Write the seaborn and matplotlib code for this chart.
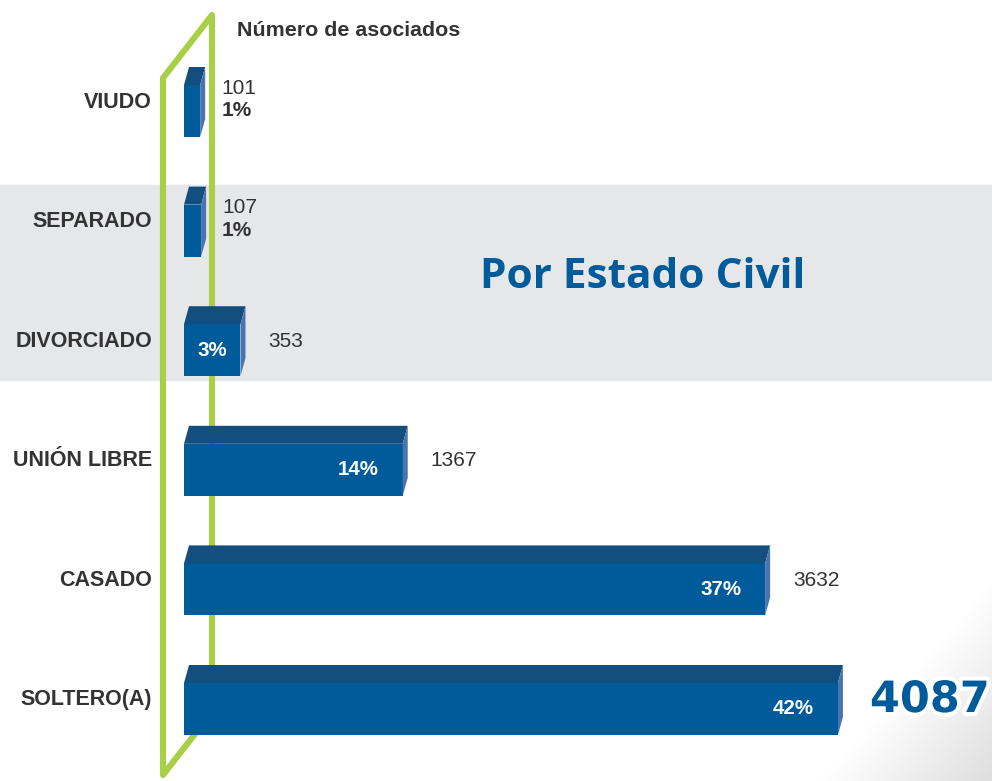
import numpy as np
import matplotlib
matplotlib.use('Agg')
import matplotlib.pyplot as plt
import matplotlib.patheffects as pe
from matplotlib.patches import Polygon
import seaborn as sns

categories = ["VIUDO", "SEPARADO", "DIVORCIADO", "UNIÓN LIBRE", "CASADO", "SOLTERO(A)"]
counts = [101, 107, 353, 1367, 3632, 4087]
pcts = ["1%", "1%", "3%", "14%", "37%", "42%"]
title = "Por Estado Civil"
subtitle = "Número de asociados"

front = "#005b9a"
top_c = "#124e7e"
side_c = "#4a74ae"
green = "#a8cf45"
grey_band = "#e6e7e9"
dark = "#333333"

sns.set_style("white")
plt.rcParams['font.family'] = ['Liberation Sans', 'DejaVu Sans']

# pixel layout helpers (figure is 992x781 px, axes fill it)
X0, XS = 184, 0.16      # x pixel of value 0, pixels per unit
Y0, YS = 111, 119.6     # y pixel of first row centre, pixels per row


def px(x, y):
    return (x - X0) / XS, (y - Y0) / YS


fig = plt.figure(figsize=(9.92, 7.81), dpi=100)
ax = fig.add_axes([0, 0, 1, 1])

sns.barplot(x=counts, y=categories, orient='h', color=front, saturation=1,
            width=52 / YS, linewidth=0, ax=ax, zorder=3)

ax.set_xlim(px(0, 0)[0], px(992, 0)[0])
ax.set_ylim(px(0, 781)[1], px(0, 0)[1])
ax.axis('off')

# grey band behind SEPARADO / DIVORCIADO
ax.axhspan(px(0, 185)[1], px(0, 380)[1], color=grey_band, zorder=0)

# soft shading in the bottom-right corner
gx, gy = np.meshgrid(np.linspace(0, 1, 200), np.linspace(0, 1, 200))
shade = np.clip((gx + gy - 1.0) / 1.0, 0, 1)
cmap = matplotlib.colors.LinearSegmentedColormap.from_list('sh', ['#ffffff', '#dedede'])
ex0, ey0 = px(820, 580)
ex1, ey1 = px(992, 781)
ax.imshow(shade, extent=(ex0, ex1, ey1, ey0), cmap=cmap, aspect='auto',
          zorder=0.5, interpolation='bilinear')

# green frame
frame = [px(163, 775), px(163, 78), px(212, 15), px(212, 712)]
ax.add_patch(Polygon(frame, closed=True, fill=False, edgecolor=green,
                     linewidth=4.4, joinstyle='round', zorder=1))

# 3d faces from the seaborn bars
dx = 5 / XS
dy = 18 / YS
for i, bar in enumerate(ax.patches[:len(counts)]):
    x0 = bar.get_x()
    x1 = x0 + bar.get_width()
    yt = bar.get_y()
    yb = yt + bar.get_height()
    ax.add_patch(Polygon([(x0, yt), (x0 + dx, yt - dy), (x1 + dx, yt - dy), (x1, yt)],
                         closed=True, facecolor=top_c, edgecolor='none', zorder=3))
    ax.add_patch(Polygon([(x1, yt), (x1 + dx, yt - dy), (x1 + dx, yb - dy), (x1, yb)],
                         closed=True, facecolor=side_c, edgecolor='none', zorder=3))

    yc = (yt + yb) / 2
    ymid = yc - dy / 2
    wpx = bar.get_width() * XS
    ax.text(px(152, 0)[0], ymid, categories[i], ha='right', va='center',
            fontsize=15.5, fontweight='bold', color=dark)

    if wpx < 30:
        ax.text(x1 + 21 / XS, yc - 23 / YS, f"{counts[i]}", ha='left', va='center',
                fontsize=15, color=dark)
        ax.text(x1 + 21 / XS, yc, pcts[i], ha='left', va='center',
                fontsize=15, fontweight='bold', color=dark)
        continue
    if wpx < 80:
        ax.text((x0 + x1) / 2, yc, pcts[i], ha='center', va='center',
                fontsize=14.8, fontweight='bold', color='white', zorder=4)
    else:
        ax.text(x1 - 24 / XS, yc, pcts[i], ha='right', va='center',
                fontsize=14.8, fontweight='bold', color='white', zorder=4)
    if counts[i] == max(counts):
        t = ax.text(x1 + 32 / XS, ymid, f"{counts[i]}", ha='left', va='center',
                    fontsize=31, fontweight='bold', color=front,
                    family=['DejaVu Sans'], zorder=4)
        t.set_path_effects([pe.Stroke(linewidth=6, foreground='white'), pe.Normal()])
    else:
        ax.text(x1 + 28 / XS, ymid, f"{counts[i]}", ha='left', va='center',
                fontsize=15, color=dark)

sx, sy = px(237, 30)
ax.text(sx, sy, subtitle, ha='left', va='center', fontsize=15.4,
        fontweight='bold', color=dark)
tx, ty = px(480, 278)
ax.text(tx, ty, title, ha='left', va='center', fontsize=30.5, fontweight='bold',
        color=front, family=['Open Sans', 'DejaVu Sans'])

fig.savefig('out.png', dpi=100)
